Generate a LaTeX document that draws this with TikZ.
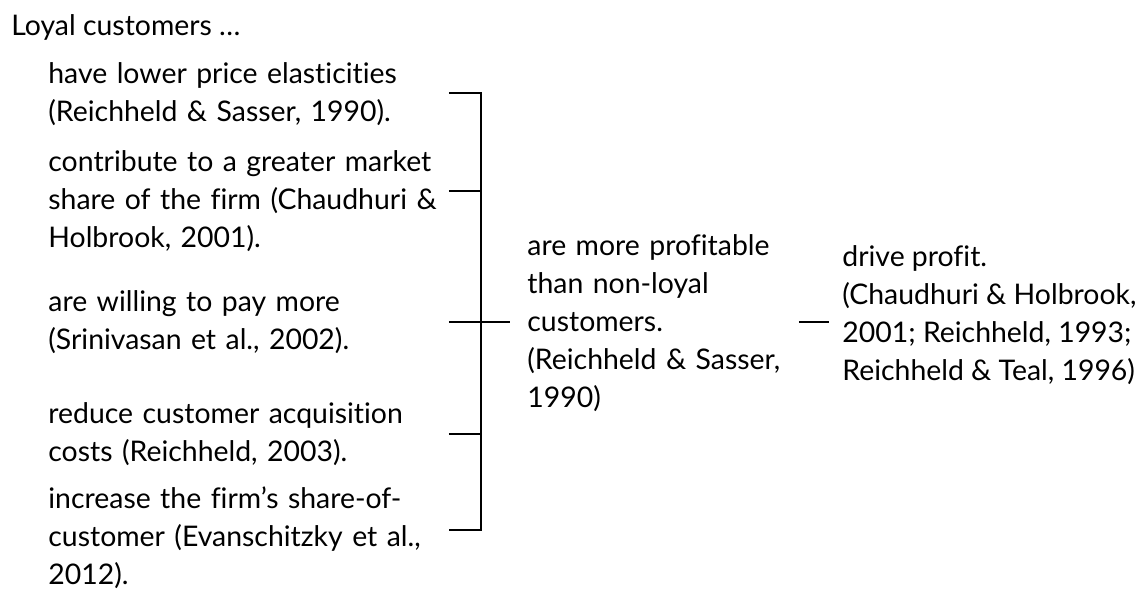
\documentclass[tikz,border=0pt]{standalone}
\usepackage{fontspec}
\setmainfont{Lato}[Ligatures=NoCommon]

\begin{document}
\begin{tikzpicture}[x=0.5pt,y=-0.5pt,
  txt/.style={inner sep=0pt, align=left, font=\fontsize{14.2}{19}\selectfont},
  item/.style={txt, anchor=west, text width=200pt},
  link/.style={draw, line width=1pt}]
\useasboundingbox (0,0) rectangle (1143,589);
\node[txt, anchor=west] (loyal) at (11,27) {Loyal customers …};
\node[item] (i1) at (48,94.5) {have lower price elasticities\\(Reichheld \& Sasser, 1990).};
\node[item] (i2) at (48,201) {contribute to a greater market\\share of the firm (Chaudhuri \&\\Holbrook, 2001).};
\node[item] (i3) at (48,322) {are willing to pay more\\(Srinivasan et al., 2002).};
\node[item] (i4) at (48,434) {reduce customer acquisition\\costs (Reichheld, 2003).};
\node[item] (i5) at (48,538) {increase the firm’s share-of-\\customer (Evanschitzky et al.,\\2012).};
\node[txt, anchor=west, inner xsep=8.5pt, text width=127pt] (mid) at (510,323.5)
  {are more profitable\\than non-loyal\\customers.\\(Reichheld \& Sasser,\\1990)};
\node[txt, anchor=west, inner xsep=6.5pt] (res) at (829,315.5)
  {drive profit.\\(Chaudhuri \& Holbrook,\\2001; Reichheld, 1993;\\Reichheld \& Teal, 1996)};
\path[link] ([yshift=1pt]i1.east) -- ++(32,0) |- ([yshift=4pt]i5.east);
\path[link] ([yshift=5pt]i2.east) -- ++(32,0);
\path[link] (i3.east) -- (i3.east -| mid.west);
\path[link] (i4.east) -- ++(32,0);
\path[link] (i3.east -| mid.east) -- (i3.east -| res.west);
\end{tikzpicture}
\end{document}
